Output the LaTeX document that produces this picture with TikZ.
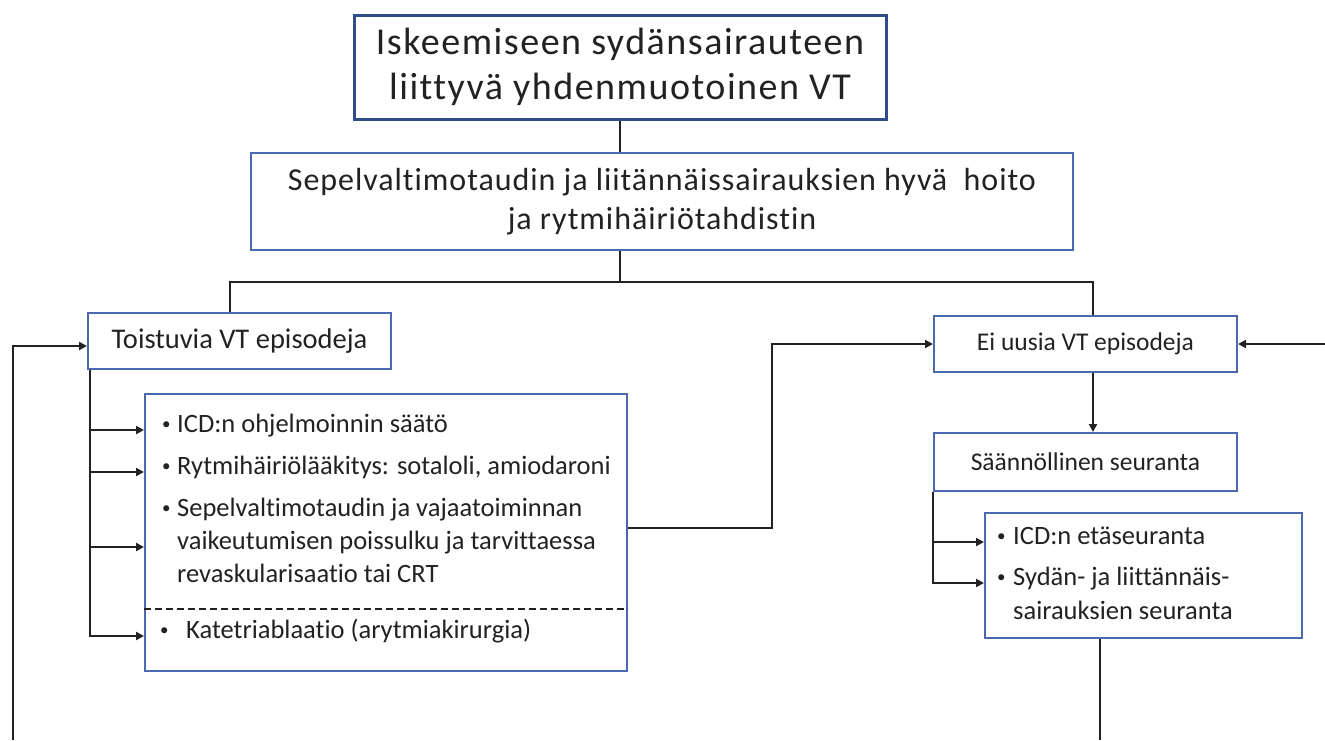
\documentclass[tikz,border=0pt]{standalone}
\usepackage{fontspec}
\setmainfont{Carlito}[Ligatures=NoCommon]
\usetikzlibrary{arrows.meta}
\definecolor{frameblue}{HTML}{4A69AE}
\definecolor{darkframe}{HTML}{2F4C8C}
\definecolor{ink}{HTML}{222222}
\tikzset{
  box/.style={draw=frameblue, line width=2pt, fill=white, inner sep=0pt, text=ink},
  headbox/.style={box, draw=darkframe, line width=3pt},
  link/.style={draw=ink, line width=2.8pt},
  arr/.style={link, -{Triangle[length=8pt,width=8pt]}},
  txtline/.style={text=ink, inner sep=0pt, anchor=west, text height=.72em, text depth=.22em,
    font=\fontsize{26.5}{30}\selectfont},
  sep/.style={draw=ink, line width=2pt, dash pattern=on 7pt off 4pt},
}
\newcommand{\bul}[1]{\makebox[#1][l]{\raisebox{0.1em}{\fontsize{17}{17}\selectfont\textbullet}}}
\begin{document}
\begin{tikzpicture}[x=1pt,y=-1pt]
\useasboundingbox (0,0) rectangle (1325,740);

% boxes
\node[headbox, minimum width=532pt, minimum height=104pt, align=center,
  font=\fontsize{38}{45}\selectfont\addfontfeatures{LetterSpace=4}] (top) at (620,67)
  {Iskeemiseen sydänsairauteen\\liittyvä yhdenmuotoinen VT};
\node[box, minimum width=822pt, minimum height=97pt, align=center,
  font=\fontsize{32}{39}\selectfont\addfontfeatures{LetterSpace=3}] (second) at (662,201.5)
  {Sepelvaltimotaudin ja liitännäissairauksien hyvä\ \ hoito\\ja rytmihäiriötahdistin};
\node[box, minimum width=303pt, minimum height=56pt,
  font=\fontsize{28.5}{32}\selectfont] (tois) at (239.5,341) {Toistuvia VT episodeja};
\node[box, minimum width=482pt, minimum height=277pt] (big) at (386,532.5) {};
\node[box, minimum width=303pt, minimum height=56pt,
  font=\fontsize{25.5}{30}\selectfont] (ei) at (1085.5,344) {Ei uusia VT episodeja};
\node[box, minimum width=303pt, minimum height=58pt,
  font=\fontsize{25.5}{30}\selectfont] (saan) at (1085.5,462) {Säännöllinen seuranta};
\node[box, minimum width=317pt, minimum height=125pt] (seur) at (1143.5,575.5) {};

% list in the left box
\node[txtline] (b1) at (162,430) {\bul{15pt}ICD:n ohjelmoinnin säätö};
\node[txtline] (b2) at (162,472) {\bul{15pt}Rytmihäiriölääkitys: sotaloli, amiodaroni};
\node[txtline] (b3a) at (162,514) {\bul{15pt}Sepelvaltimotaudin ja vajaatoiminnan};
\node[txtline] (b3b) at (177,547) {vaikeutumisen poissulku ja tarvittaessa};
\node[txtline] (b3c) at (177,580) {revaskularisaatio tai CRT};
\node[txtline] (b4) at (160,636) {\bul{26pt}Katetriablaatio (arytmiakirurgia)};
\coordinate (dl) at (386,609);
\draw[sep] (dl -| big.west) -- (dl -| big.east);

% list in the right box
\node[txtline] (r1) at (997,542) {\bul{16pt}ICD:n etäseuranta};
\node[txtline] (r2) at (997,583) {\bul{16pt}Sydän- ja liittännäis-};
\node[txtline] (r2b) at (1013,617) {sairauksien seuranta};

% trunk
\coordinate (jl) at (230,282);
\coordinate (jr) at (1093,282);
\draw[link] (top.south) -- (second.north -| top.south);
\draw[link] (second.south -| top.south) -- (top.south |- jl);
\draw[link] (tois.north -| jl) -- (jl) -- (jr) -- (ei.north -| jr);

% left branch
\coordinate (tl) at (90,0);
\draw[arr] (tois.south -| tl) -- (b4.west -| tl) -- (b4.west -| big.west);
\draw[arr] (b1.west -| tl) -- (b1.west -| big.west);
\draw[arr] (b2.west -| tl) -- (b2.west -| big.west);
\draw[arr] (b3b.west -| tl) -- (b3b.west -| big.west);

% back to the right column
\coordinate (fb) at (772,528);
\draw[arr] (fb -| big.east) -- (fb) -- (fb |- ei.west) -- (ei.west);

% right branch
\draw[arr] (ei.south -| jr) -- (saan.north -| jr);
\draw[arr] (saan.south west) -- (r2.west -| saan.south west) -- (r2.west -| seur.west);
\draw[arr] (r1.west -| saan.south west) -- (r1.west -| seur.west);
\coordinate (bo) at (1100,740);
\draw[link] (seur.south -| bo) -- (bo);

% returns from the page edges
\coordinate (le) at (13,740);
\coordinate (lin) at (13,346);
\draw[arr] (le) -- (lin) -- (lin -| tois.west);
\coordinate (re) at (1325,344);
\draw[arr] (re) -- (re -| ei.east);
\end{tikzpicture}
\end{document}
